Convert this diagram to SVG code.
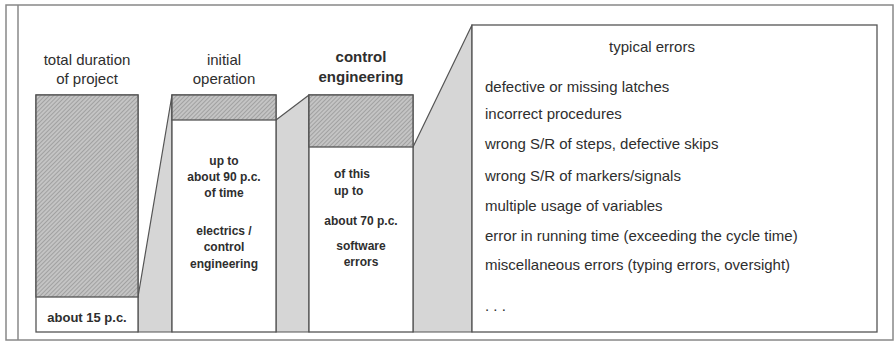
<svg xmlns="http://www.w3.org/2000/svg" width="895" height="342" viewBox="0 0 895 342">
<defs>
<pattern id="hatch" width="3" height="3" patternUnits="userSpaceOnUse" patternTransform="rotate(45)">
<rect width="3" height="3" fill="#c4c4c4"/>
<line x1="0" y1="0" x2="0" y2="3" stroke="#8a8a8a" stroke-width="1.2"/>
</pattern>
</defs>
<style>
text{font-family:"Liberation Sans",Arial,sans-serif;fill:#2e2e2e}
.t{font-size:15px;text-anchor:middle}
.tb{font-size:15px;text-anchor:middle;font-weight:bold}
.c{font-size:12px;text-anchor:middle;font-weight:bold}
.cl{font-size:12px;font-weight:bold}
.l{font-size:15px}
.box{fill:#fff;stroke:#555;stroke-width:1.3}
.hat{fill:url(#hatch);stroke:#555;stroke-width:1.3}
.gray{fill:#d6d6d6;stroke:#555;stroke-width:1.2;stroke-linejoin:round}
.frame{fill:none;stroke:#888;stroke-width:1.5}
</style>
<g id="frame">
<rect class="frame" x="6" y="5" width="887" height="335"/>
<line class="frame" x1="18" y1="5" x2="18" y2="340"/>
</g>
<g id="connectors">
<polygon class="gray" points="138,297 172,95 172,332 138,332"/>
<polygon class="gray" points="276,120 309,95 309,332 276,332"/>
<polygon class="gray" points="413,147 472,25 472,332 413,332"/>
</g>
<g id="total">
<rect class="box" x="36" y="95" width="102" height="237"/>
<rect class="hat" x="36" y="95" width="102" height="202"/>
<text class="t" x="87" y="65">total duration</text>
<text class="t" x="87" y="84">of project</text>
<text class="c" x="87" y="322" style="font-size:13px">about 15 p.c.</text>
</g>
<g id="initial">
<rect class="box" x="172" y="95" width="104" height="237"/>
<rect class="hat" x="172" y="95" width="104" height="25"/>
<text class="t" x="224" y="65">initial</text>
<text class="t" x="224" y="84">operation</text>
<text class="c" x="224" y="165">up to</text>
<text class="c" x="224" y="181">about 90 p.c.</text>
<text class="c" x="224" y="197">of time</text>
<text class="c" x="224" y="235">electrics /</text>
<text class="c" x="224" y="251">control</text>
<text class="c" x="224" y="268">engineering</text>
</g>
<g id="control">
<rect class="box" x="309" y="95" width="104" height="237"/>
<rect class="hat" x="309" y="95" width="104" height="52"/>
<text class="tb" x="361" y="62">control</text>
<text class="tb" x="361" y="82">engineering</text>
<text class="cl" x="334" y="178">of this</text>
<text class="cl" x="334" y="195">up to</text>
<text class="c" x="361" y="225">about 70 p.c.</text>
<text class="c" x="361" y="250">software</text>
<text class="c" x="361" y="266">errors</text>
</g>
<g id="typical">
<rect class="box" x="472" y="25" width="405" height="307"/>
<text class="t" x="652" y="52">typical errors</text>
<text class="l" x="485" y="92">defective or missing latches</text>
<text class="l" x="485" y="119">incorrect procedures</text>
<text class="l" x="485" y="149">wrong S/R of steps, defective skips</text>
<text class="l" x="485" y="181">wrong S/R of markers/signals</text>
<text class="l" x="485" y="211">multiple usage of variables</text>
<text class="l" x="485" y="241">error in running time (exceeding the cycle time)</text>
<text class="l" x="485" y="270">miscellaneous errors (typing errors, oversight)</text>
<text class="l" x="485" y="311">. . .</text>
</g>
</svg>
